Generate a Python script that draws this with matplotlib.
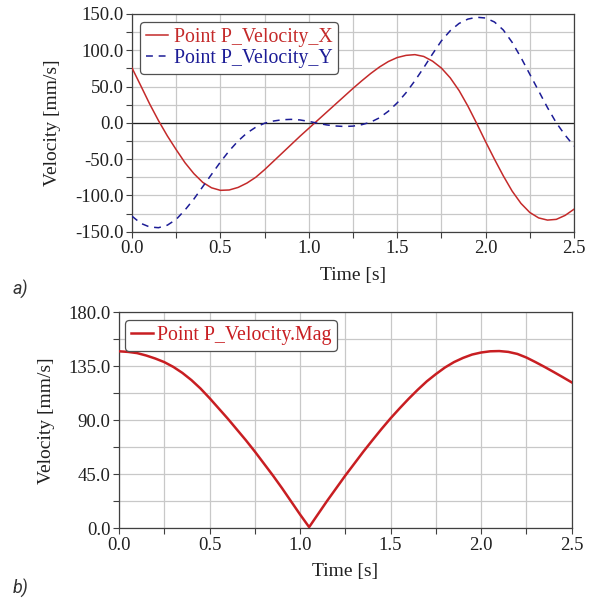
import numpy as np
import matplotlib
matplotlib.use("Agg")
import matplotlib.pyplot as plt
from matplotlib.ticker import MultipleLocator, FormatStrFormatter

# ---- data ----
time = [0.00, 0.05, 0.10, 0.15, 0.20, 0.25, 0.30, 0.35, 0.40, 0.45,
        0.50, 0.55, 0.60, 0.65, 0.70, 0.75, 0.80, 0.85, 0.90, 0.95,
        1.00, 1.05, 1.10, 1.15, 1.20, 1.25, 1.30, 1.35, 1.40, 1.45,
        1.50, 1.55, 1.60, 1.65, 1.70, 1.75, 1.80, 1.85, 1.90, 1.95,
        2.00, 2.05, 2.10, 2.15, 2.20, 2.25, 2.30, 2.35, 2.40, 2.45, 2.50]

vel_x = [75.7, 51, 26, 3, -18, -37, -55, -70, -82, -89.5,
         -93, -92.5, -89, -83, -75, -64.5, -53, -41.5, -30, -18.5,
         -7.5, 3.5, 14.5, 25.5, 36.5, 47.5, 58, 68, 77, 84.5,
         90, 93, 94, 91.5, 85, 75.5, 62, 44.5, 23, -1,
         -26, -50, -73, -94, -111, -123.5, -131, -134, -133, -127.5, -119]

vel_y = [-128.6, -138.5, -143.5, -144.5, -141, -133, -120, -105, -88, -71,
         -54, -38.5, -25, -14, -6, -0.5, 2.5, 4.3, 4.8, 4,
         2, -0.5, -2.8, -4.3, -5, -4.5, -2.5, 1, 7, 16,
         27.5, 41.5, 58, 76, 95, 113, 127, 137, 143, 145.5,
         144.5, 139, 128, 111, 90, 67, 44, 21, 0, -17, -32]

vel_mag = [147.5, 147, 146, 144, 141.5, 138.5, 134.5, 129.5, 123.5, 116.5,
           108.5, 100, 91.5, 82.5, 73.5, 64, 54, 44, 33.5, 22.5,
           11.5, 1, 12, 23, 33.5, 44, 54, 64, 73.5, 82.8,
           91.7, 100, 108, 115.5, 122.5, 128.5, 134, 138.5, 142, 144.8,
           146.5, 147.5, 147.7, 147.0, 145.3, 142.3, 138.5, 134.5, 130.3, 126, 121.6]

label_x = "Point P_Velocity_X"
label_y = "Point P_Velocity_Y"
label_mag = "Point P_Velocity.Mag"

RED = "#c42a2a"
BLUE = "#1c1c96"
RED2 = "#c81e22"
GRID = "#c8c8c8"
SPINE = "#404040"

plt.rcParams['font.family'] = ['Liberation Serif', 'DejaVu Serif']

fig = plt.figure(figsize=(5.96, 6.0), dpi=100)
fig.patch.set_facecolor("white")

def style(ax, xmaj, xmin, ymaj, ymin, ylim, fmt):
    ax.set_xlim(0, 2.5)
    ax.set_ylim(*ylim)
    ax.xaxis.set_major_locator(MultipleLocator(xmaj))
    ax.xaxis.set_minor_locator(MultipleLocator(xmin))
    ax.yaxis.set_major_locator(MultipleLocator(ymaj))
    ax.yaxis.set_minor_locator(MultipleLocator(ymin))
    ax.xaxis.set_major_formatter(FormatStrFormatter("%.1f"))
    ax.yaxis.set_major_formatter(FormatStrFormatter(fmt))
    ax.grid(True, which="both", color=GRID, linewidth=0.9, zorder=0)
    ax.set_axisbelow(True)
    for s in ax.spines.values():
        s.set_color(SPINE)
        s.set_linewidth(0.9)
    ax.tick_params(which="both", direction="out", length=4, width=0.8,
                   color=SPINE, labelsize=13.5, pad=2)
    ax.tick_params(which="both", top=False, right=False)
    for lab in ax.get_xticklabels() + ax.get_yticklabels():
        lab.set_color("#202020")

# ---- top plot ----
ax1 = fig.add_axes([132/596, 1-231.7/600, 442/596, 217.7/600])
style(ax1, 0.5, 0.25, 50, 25, (-150, 150), "%.1f")
ax1.axhline(0, color="#202020", linewidth=0.9, zorder=1)
ax1.plot(time, vel_x, color=RED, linewidth=1.1, label=label_x, zorder=3)
ax1.plot(time, vel_y, color=BLUE, linewidth=1.1, linestyle=(0, (4.5, 3.8)),
         label=label_y, zorder=3)
ax1.set_xlabel("Time [s]", fontsize=14, labelpad=7, color="#202020")
ax1.set_ylabel("Velocity [mm/s]", fontsize=14, labelpad=10, color="#202020")
leg1 = ax1.legend(loc="upper left", bbox_to_anchor=(0.018, 0.965), fontsize=14.3,
                  handlelength=1.1, handletextpad=0.3, labelspacing=0.1,
                  borderpad=0.3, frameon=True, fancybox=True, framealpha=1,
                  edgecolor="#505050", borderaxespad=0)
leg1.get_frame().set_linewidth(0.9)
for txt, c in zip(leg1.get_texts(), [RED, BLUE]):
    txt.set_color(c)

# ---- bottom plot ----
ax2 = fig.add_axes([119/596, 1-528.3/600, 452.7/596, 216/600])
style(ax2, 0.5, 0.25, 45, 22.5, (0, 180), "%.1f")
ax2.plot(time, vel_mag, color=RED2, linewidth=1.8, label=label_mag, zorder=3)
ax2.set_xlabel("Time [s]", fontsize=14, labelpad=7, color="#202020")
ax2.set_ylabel("Velocity [mm/s]", fontsize=14, labelpad=10, color="#202020")
leg2 = ax2.legend(loc="upper left", bbox_to_anchor=(0.013, 0.965), fontsize=14.3,
                  handlelength=1.1, handletextpad=0.2, borderpad=0.3,
                  frameon=True, fancybox=True, framealpha=1,
                  edgecolor="#505050", borderaxespad=0)
leg2.get_frame().set_linewidth(0.9)
for txt in leg2.get_texts():
    txt.set_color(RED2)

# panel letters
fig.text(20/596, 1-289/600, "a)", fontsize=13, style="italic",
         family=["Roboto", "DejaVu Sans"], color="#333333", ha="center", va="center")
fig.text(21/596, 1-588/600, "b)", fontsize=13, style="italic",
         family=["Roboto", "DejaVu Sans"], color="#333333", ha="center", va="center")

fig.savefig("out.png", dpi=100, facecolor="white")
